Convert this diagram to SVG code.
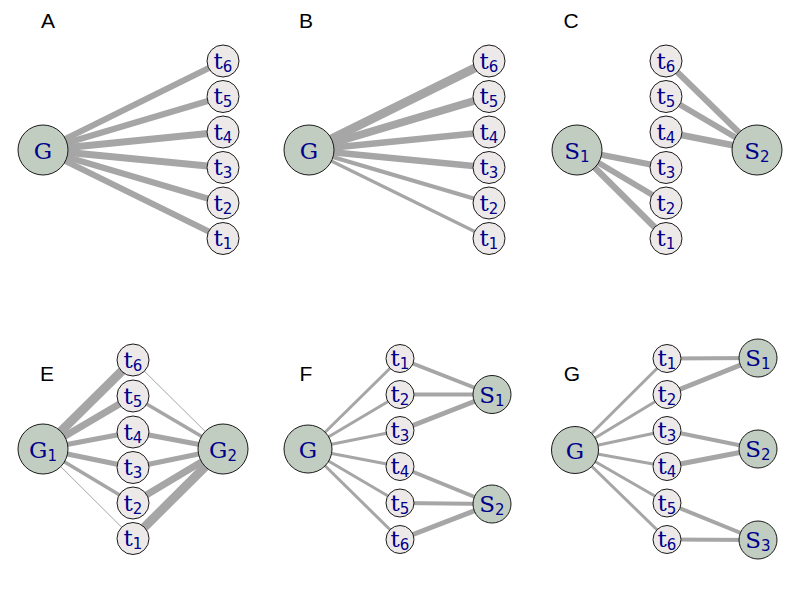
<svg xmlns="http://www.w3.org/2000/svg" width="800" height="600" viewBox="0 0 800 600">
  <style>
    .edges line { stroke: #a6a6a6; stroke-linecap: butt; }
    .big { fill: #c1cdc1; stroke: #1a1a1a; stroke-width: 1; }
    .tn { fill: #eee9e9; stroke: #1a1a1a; stroke-width: 1; }
    .nl { font-family: "DejaVu Serif", "Liberation Serif", serif; font-size: 23px; fill: #00008b; text-anchor: middle; }
    .nl tspan { font-family: "DejaVu Sans", "Liberation Sans", sans-serif; font-size: 15px; }
    .panel { font-family: "Liberation Sans", Arial, sans-serif; font-size: 21px; fill: #000; text-anchor: middle; }
  </style>
  <rect width="800" height="600" fill="#ffffff"/>

  <!-- panel letters -->
  <g id="panel-labels">
    <text class="panel" x="48" y="28">A</text>
    <text class="panel" x="306" y="28">B</text>
    <text class="panel" x="571" y="28">C</text>
    <text class="panel" x="47" y="381">E</text>
    <text class="panel" x="306" y="381">F</text>
    <text class="panel" x="572" y="381">G</text>
  </g>

  <!-- ===== Panel A ===== -->
  <g id="A-edges" class="edges">
    <line x1="43" y1="150" x2="223" y2="61" stroke-width="6"/>
    <line x1="43" y1="150" x2="223" y2="96.5" stroke-width="6"/>
    <line x1="43" y1="150" x2="223" y2="132" stroke-width="7"/>
    <line x1="43" y1="150" x2="223" y2="167.5" stroke-width="7"/>
    <line x1="43" y1="150" x2="223" y2="203" stroke-width="6"/>
    <line x1="43" y1="150" x2="223" y2="238.5" stroke-width="6"/>
  </g>
  <g id="A-G"><circle class="big" cx="43" cy="150" r="25"/><text class="nl" x="43" y="158.5">G</text></g>
  <g id="A-t6"><circle class="tn" cx="223" cy="61" r="16"/><text class="nl" x="223" y="68.5">t<tspan dy="3">6</tspan></text></g>
  <g id="A-t5"><circle class="tn" cx="223" cy="96.5" r="16"/><text class="nl" x="223" y="104">t<tspan dy="3">5</tspan></text></g>
  <g id="A-t4"><circle class="tn" cx="223" cy="132" r="16"/><text class="nl" x="223" y="139.5">t<tspan dy="3">4</tspan></text></g>
  <g id="A-t3"><circle class="tn" cx="223" cy="167.5" r="16"/><text class="nl" x="223" y="175">t<tspan dy="3">3</tspan></text></g>
  <g id="A-t2"><circle class="tn" cx="223" cy="203" r="16"/><text class="nl" x="223" y="210.5">t<tspan dy="3">2</tspan></text></g>
  <g id="A-t1"><circle class="tn" cx="223" cy="238.5" r="16"/><text class="nl" x="223" y="246">t<tspan dy="3">1</tspan></text></g>

  <!-- ===== Panel B ===== -->
  <g id="B-edges" class="edges">
    <line x1="309" y1="150" x2="489" y2="61" stroke-width="9"/>
    <line x1="309" y1="150" x2="489" y2="96.5" stroke-width="8"/>
    <line x1="309" y1="150" x2="489" y2="132" stroke-width="6.5"/>
    <line x1="309" y1="150" x2="489" y2="167.5" stroke-width="6.5"/>
    <line x1="309" y1="150" x2="489" y2="203" stroke-width="4"/>
    <line x1="309" y1="150" x2="489" y2="238.5" stroke-width="3.2"/>
  </g>
  <g id="B-G"><circle class="big" cx="309" cy="150" r="25"/><text class="nl" x="309" y="158.5">G</text></g>
  <g id="B-t6"><circle class="tn" cx="489" cy="61" r="16"/><text class="nl" x="489" y="68.5">t<tspan dy="3">6</tspan></text></g>
  <g id="B-t5"><circle class="tn" cx="489" cy="96.5" r="16"/><text class="nl" x="489" y="104">t<tspan dy="3">5</tspan></text></g>
  <g id="B-t4"><circle class="tn" cx="489" cy="132" r="16"/><text class="nl" x="489" y="139.5">t<tspan dy="3">4</tspan></text></g>
  <g id="B-t3"><circle class="tn" cx="489" cy="167.5" r="16"/><text class="nl" x="489" y="175">t<tspan dy="3">3</tspan></text></g>
  <g id="B-t2"><circle class="tn" cx="489" cy="203" r="16"/><text class="nl" x="489" y="210.5">t<tspan dy="3">2</tspan></text></g>
  <g id="B-t1"><circle class="tn" cx="489" cy="238.5" r="16"/><text class="nl" x="489" y="246">t<tspan dy="3">1</tspan></text></g>

  <!-- ===== Panel C ===== -->
  <g id="C-edges" class="edges">
    <line x1="577" y1="150" x2="666" y2="167.5" stroke-width="6"/>
    <line x1="577" y1="150" x2="666" y2="203" stroke-width="6"/>
    <line x1="577" y1="150" x2="666" y2="238.5" stroke-width="6.5"/>
    <line x1="757" y1="150" x2="666" y2="61" stroke-width="6"/>
    <line x1="757" y1="150" x2="666" y2="96.5" stroke-width="6"/>
    <line x1="757" y1="150" x2="666" y2="132" stroke-width="6.5"/>
  </g>
  <g id="C-S1"><circle class="big" cx="577" cy="150" r="25"/><text class="nl" x="577" y="158.5">S<tspan dy="3">1</tspan></text></g>
  <g id="C-S2"><circle class="big" cx="757" cy="150" r="25"/><text class="nl" x="757" y="158.5">S<tspan dy="3">2</tspan></text></g>
  <g id="C-t6"><circle class="tn" cx="666" cy="61" r="16"/><text class="nl" x="666" y="68.5">t<tspan dy="3">6</tspan></text></g>
  <g id="C-t5"><circle class="tn" cx="666" cy="96.5" r="16"/><text class="nl" x="666" y="104">t<tspan dy="3">5</tspan></text></g>
  <g id="C-t4"><circle class="tn" cx="666" cy="132" r="16"/><text class="nl" x="666" y="139.5">t<tspan dy="3">4</tspan></text></g>
  <g id="C-t3"><circle class="tn" cx="666" cy="167.5" r="16"/><text class="nl" x="666" y="175">t<tspan dy="3">3</tspan></text></g>
  <g id="C-t2"><circle class="tn" cx="666" cy="203" r="16"/><text class="nl" x="666" y="210.5">t<tspan dy="3">2</tspan></text></g>
  <g id="C-t1"><circle class="tn" cx="666" cy="238.5" r="16"/><text class="nl" x="666" y="246">t<tspan dy="3">1</tspan></text></g>

  <!-- ===== Panel E ===== -->
  <g id="E-edges" class="edges">
    <line x1="43" y1="449" x2="133" y2="360" stroke-width="9"/>
    <line x1="43" y1="449" x2="133" y2="396" stroke-width="7"/>
    <line x1="43" y1="449" x2="133" y2="432" stroke-width="5"/>
    <line x1="43" y1="449" x2="133" y2="467.5" stroke-width="5"/>
    <line x1="43" y1="449" x2="133" y2="503" stroke-width="3.5"/>
    <line x1="43" y1="449" x2="133" y2="538.5" stroke-width="1"/>
    <line x1="223" y1="449" x2="133" y2="360" stroke-width="1"/>
    <line x1="223" y1="449" x2="133" y2="396" stroke-width="3.5"/>
    <line x1="223" y1="449" x2="133" y2="432" stroke-width="5"/>
    <line x1="223" y1="449" x2="133" y2="467.5" stroke-width="5"/>
    <line x1="223" y1="449" x2="133" y2="503" stroke-width="7"/>
    <line x1="223" y1="449" x2="133" y2="538.5" stroke-width="9"/>
  </g>
  <g id="E-G1"><circle class="big" cx="43" cy="449" r="25"/><text class="nl" x="43" y="457.5">G<tspan dy="3">1</tspan></text></g>
  <g id="E-G2"><circle class="big" cx="223" cy="449" r="25"/><text class="nl" x="223" y="457.5">G<tspan dy="3">2</tspan></text></g>
  <g id="E-t6"><circle class="tn" cx="133" cy="360" r="16"/><text class="nl" x="133" y="367.5">t<tspan dy="3">6</tspan></text></g>
  <g id="E-t5"><circle class="tn" cx="133" cy="396" r="16"/><text class="nl" x="133" y="403.5">t<tspan dy="3">5</tspan></text></g>
  <g id="E-t4"><circle class="tn" cx="133" cy="432" r="16"/><text class="nl" x="133" y="439.5">t<tspan dy="3">4</tspan></text></g>
  <g id="E-t3"><circle class="tn" cx="133" cy="467.5" r="16"/><text class="nl" x="133" y="475">t<tspan dy="3">3</tspan></text></g>
  <g id="E-t2"><circle class="tn" cx="133" cy="503" r="16"/><text class="nl" x="133" y="510.5">t<tspan dy="3">2</tspan></text></g>
  <g id="E-t1"><circle class="tn" cx="133" cy="538.5" r="16"/><text class="nl" x="133" y="546">t<tspan dy="3">1</tspan></text></g>

  <!-- ===== Panel F ===== -->
  <g id="F-edges" class="edges">
    <line x1="308" y1="449" x2="400" y2="358.5" stroke-width="3"/>
    <line x1="308" y1="449" x2="400" y2="394.5" stroke-width="3"/>
    <line x1="308" y1="449" x2="400" y2="430.5" stroke-width="3"/>
    <line x1="308" y1="449" x2="400" y2="466.5" stroke-width="3"/>
    <line x1="308" y1="449" x2="400" y2="503" stroke-width="3"/>
    <line x1="308" y1="449" x2="400" y2="539.5" stroke-width="3"/>
    <line x1="492" y1="394.5" x2="400" y2="358.5" stroke-width="4"/>
    <line x1="492" y1="394.5" x2="400" y2="394.5" stroke-width="4"/>
    <line x1="492" y1="394.5" x2="400" y2="430.5" stroke-width="5"/>
    <line x1="492" y1="504" x2="400" y2="466.5" stroke-width="4"/>
    <line x1="492" y1="504" x2="400" y2="503" stroke-width="4"/>
    <line x1="492" y1="504" x2="400" y2="539.5" stroke-width="5"/>
  </g>
  <g id="F-G"><circle class="big" cx="308" cy="449" r="24"/><text class="nl" x="308" y="457.5">G</text></g>
  <g id="F-S1"><circle class="big" cx="492" cy="394.5" r="19"/><text class="nl" x="492" y="402.5">S<tspan dy="3">1</tspan></text></g>
  <g id="F-S2"><circle class="big" cx="492" cy="504" r="19"/><text class="nl" x="492" y="512">S<tspan dy="3">2</tspan></text></g>
  <g id="F-t1"><circle class="tn" cx="400" cy="358.5" r="14"/><text class="nl" x="400" y="366">t<tspan dy="3">1</tspan></text></g>
  <g id="F-t2"><circle class="tn" cx="400" cy="394.5" r="14"/><text class="nl" x="400" y="402">t<tspan dy="3">2</tspan></text></g>
  <g id="F-t3"><circle class="tn" cx="400" cy="430.5" r="14"/><text class="nl" x="400" y="438">t<tspan dy="3">3</tspan></text></g>
  <g id="F-t4"><circle class="tn" cx="400" cy="466.5" r="14"/><text class="nl" x="400" y="474">t<tspan dy="3">4</tspan></text></g>
  <g id="F-t5"><circle class="tn" cx="400" cy="503" r="14"/><text class="nl" x="400" y="510.5">t<tspan dy="3">5</tspan></text></g>
  <g id="F-t6"><circle class="tn" cx="400" cy="539.5" r="14"/><text class="nl" x="400" y="547">t<tspan dy="3">6</tspan></text></g>

  <!-- ===== Panel G ===== -->
  <g id="G-edges" class="edges">
    <line x1="575" y1="450" x2="667" y2="358.5" stroke-width="3"/>
    <line x1="575" y1="450" x2="667" y2="394.5" stroke-width="3"/>
    <line x1="575" y1="450" x2="667" y2="430.5" stroke-width="3"/>
    <line x1="575" y1="450" x2="667" y2="466.5" stroke-width="3"/>
    <line x1="575" y1="450" x2="667" y2="503" stroke-width="3"/>
    <line x1="575" y1="450" x2="667" y2="539.5" stroke-width="3"/>
    <line x1="758" y1="358" x2="667" y2="358.5" stroke-width="4"/>
    <line x1="758" y1="358" x2="667" y2="394.5" stroke-width="5"/>
    <line x1="758" y1="449" x2="667" y2="430.5" stroke-width="4"/>
    <line x1="758" y1="449" x2="667" y2="466.5" stroke-width="5"/>
    <line x1="758" y1="540" x2="667" y2="503" stroke-width="4"/>
    <line x1="758" y1="540" x2="667" y2="539.5" stroke-width="4"/>
  </g>
  <g id="G-G"><circle class="big" cx="575" cy="450" r="23.5"/><text class="nl" x="575" y="458.5">G</text></g>
  <g id="G-S1"><circle class="big" cx="758" cy="358" r="19"/><text class="nl" x="758" y="366">S<tspan dy="3">1</tspan></text></g>
  <g id="G-S2"><circle class="big" cx="758" cy="449" r="19"/><text class="nl" x="758" y="457">S<tspan dy="3">2</tspan></text></g>
  <g id="G-S3"><circle class="big" cx="758" cy="540" r="19"/><text class="nl" x="758" y="548">S<tspan dy="3">3</tspan></text></g>
  <g id="G-t1"><circle class="tn" cx="667" cy="358.5" r="14"/><text class="nl" x="667" y="366">t<tspan dy="3">1</tspan></text></g>
  <g id="G-t2"><circle class="tn" cx="667" cy="394.5" r="14"/><text class="nl" x="667" y="402">t<tspan dy="3">2</tspan></text></g>
  <g id="G-t3"><circle class="tn" cx="667" cy="430.5" r="14"/><text class="nl" x="667" y="438">t<tspan dy="3">3</tspan></text></g>
  <g id="G-t4"><circle class="tn" cx="667" cy="466.5" r="14"/><text class="nl" x="667" y="474">t<tspan dy="3">4</tspan></text></g>
  <g id="G-t5"><circle class="tn" cx="667" cy="503" r="14"/><text class="nl" x="667" y="510.5">t<tspan dy="3">5</tspan></text></g>
  <g id="G-t6"><circle class="tn" cx="667" cy="539.5" r="14"/><text class="nl" x="667" y="547">t<tspan dy="3">6</tspan></text></g>
</svg>
